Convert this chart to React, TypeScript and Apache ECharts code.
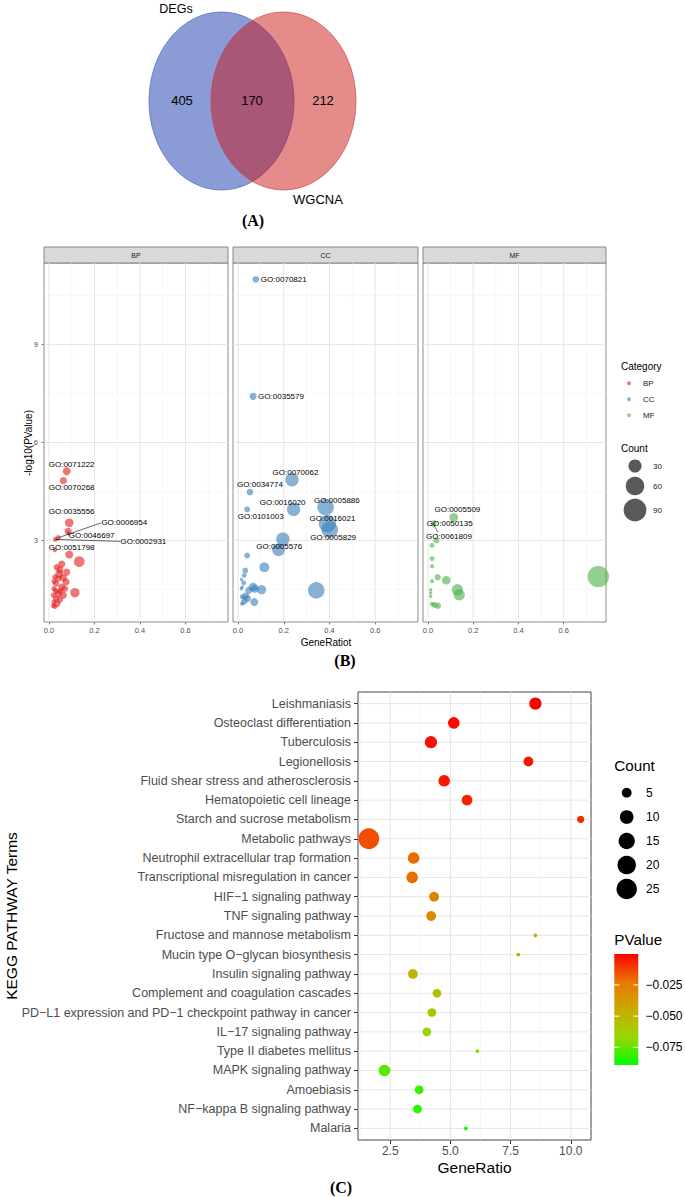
import React, { useEffect, useRef } from "react";
import * as echarts from "echarts";

// ---------------- Panel A : Venn ----------------
const vennSets = ["DEGs", "WGCNA"];
const vennCounts = [405, 170, 212]; // DEGs only, shared, WGCNA only

// ---------------- Panel B : GO bubble facets ----------------
// [GeneRatio, -log10(PValue), Count, GO id ("" = unlabeled)]
type GoPoint = [number, number, number, string];
const goCategories = ["BP", "CC", "MF"];
const bpPoints: GoPoint[] = [
  [0.078, 5.12, 11, "GO:0071222"],
  [0.063, 4.83, 9, "GO:0070268"],
  [0.089, 3.54, 13, "GO:0035556"],
  [0.084, 3.28, 9, "GO:0046697"],
  [0.04, 3.08, 5, "GO:0006954"],
  [0.028, 3.03, 4, "GO:0002931"],
  [0.026, 2.7, 3, "GO:0051798"],
  [0.089, 2.57, 11, ""],
  [0.133, 2.35, 20, ""],
  [0.114, 1.4, 15, ""],
  [0.056, 2.27, 9, ""],
  [0.034, 2.18, 7, ""],
  [0.048, 2.1, 8, ""],
  [0.078, 2.03, 9, ""],
  [0.045, 1.98, 11, ""],
  [0.026, 1.88, 5, ""],
  [0.063, 1.86, 9, ""],
  [0.041, 1.83, 7, ""],
  [0.022, 1.75, 5, ""],
  [0.075, 1.73, 9, ""],
  [0.031, 1.68, 7, ""],
  [0.056, 1.57, 9, ""],
  [0.022, 1.52, 5, ""],
  [0.07, 1.52, 7, ""],
  [0.03, 1.45, 6, ""],
  [0.05, 1.45, 6, ""],
  [0.041, 1.37, 9, ""],
  [0.019, 1.32, 5, ""],
  [0.063, 1.32, 9, ""],
  [0.031, 1.21, 7, ""],
  [0.048, 1.18, 7, ""],
  [0.022, 1.11, 5, ""],
  [0.037, 1.06, 7, ""],
  [0.019, 1.0, 4, ""],
  [0.026, 0.97, 4, ""],
];
const ccPoints: GoPoint[] = [
  [0.078, 11.0, 8, "GO:0070821"],
  [0.066, 7.41, 9, "GO:0035579"],
  [0.236, 4.86, 31, "GO:0070062"],
  [0.052, 4.48, 8, "GO:0034774"],
  [0.243, 3.95, 31, "GO:0016020"],
  [0.04, 3.95, 6, "GO:0101003"],
  [0.383, 4.02, 48, "GO:0005886"],
  [0.391, 3.51, 52, "GO:0016021"],
  [0.401, 3.33, 48, "GO:0005829"],
  [0.196, 3.04, 31, "GO:0005576"],
  [0.177, 2.71, 28, ""],
  [0.04, 2.54, 6, ""],
  [0.115, 2.18, 17, ""],
  [0.032, 2.08, 6, ""],
  [0.027, 1.93, 4, ""],
  [0.015, 1.8, 2, ""],
  [0.025, 1.7, 4, ""],
  [0.018, 1.57, 2, ""],
  [0.066, 1.57, 13, ""],
  [0.074, 1.52, 11, ""],
  [0.015, 1.52, 2, ""],
  [0.047, 1.47, 9, ""],
  [0.103, 1.49, 15, ""],
  [0.342, 1.47, 48, ""],
  [0.032, 1.29, 9, ""],
  [0.018, 1.27, 4, ""],
  [0.041, 1.22, 9, ""],
  [0.027, 1.13, 7, ""],
  [0.071, 1.11, 11, ""],
  [0.018, 1.06, 3, ""],
];
const mfPoints: GoPoint[] = [
  [0.114, 3.71, 13, "GO:0005509"],
  [0.027, 3.54, 5, "GO:0050135"],
  [0.025, 3.47, 3, "GO:0061809"],
  [0.037, 3.0, 6, ""],
  [0.018, 2.85, 4, ""],
  [0.018, 2.44, 4, ""],
  [0.018, 2.21, 3, ""],
  [0.018, 1.75, 3, ""],
  [0.043, 1.87, 7, ""],
  [0.081, 1.78, 13, ""],
  [0.753, 1.89, 80, ""],
  [0.13, 1.49, 22, ""],
  [0.138, 1.33, 22, ""],
  [0.012, 1.49, 2, ""],
  [0.012, 1.39, 2, ""],
  [0.012, 1.28, 2, ""],
  [0.018, 1.05, 4, ""],
  [0.03, 1.02, 6, ""],
  [0.044, 1.0, 7, ""],
];
const goXTicks = [0, 0.2, 0.4, 0.6];
const goXMinor = [0.1, 0.3, 0.5, 0.7];
const goYTicks = [3, 6, 9];
const goYMinor = [1.5, 4.5, 7.5, 10.5];
const goCountBreaks = [30, 60, 90];

// ---------------- Panel C : KEGG dot plot ----------------
const keggTerms = [
  "Leishmaniasis",
  "Osteoclast differentiation",
  "Tuberculosis",
  "Legionellosis",
  "Fluid shear stress and atherosclerosis",
  "Hematopoietic cell lineage",
  "Starch and sucrose metabolism",
  "Metabolic pathways",
  "Neutrophil extracellular trap formation",
  "Transcriptional misregulation in cancer",
  "HIF\u22121 signaling pathway",
  "TNF signaling pathway",
  "Fructose and mannose metabolism",
  "Mucin type O\u2212glycan biosynthesis",
  "Insulin signaling pathway",
  "Complement and coagulation cascades",
  "PD\u2212L1 expression and PD\u22121 checkpoint pathway in cancer",
  "IL\u221217 signaling pathway",
  "Type II diabetes mellitus",
  "MAPK signaling pathway",
  "Amoebiasis",
  "NF\u2212kappa B signaling pathway",
  "Malaria",
];
const keggRatio = [8.53, 5.14, 4.19, 8.24, 4.74, 5.69, 10.41, 1.61, 3.47, 3.41, 4.32, 4.2, 8.53, 7.82, 3.44, 4.44, 4.23, 4.02, 6.12, 2.26, 3.7, 3.63, 5.64];
const keggCount = [8, 7, 8, 5, 7, 6, 3, 26, 7, 7, 5, 5, 2, 2, 5, 4, 4, 4, 2, 7, 4, 4, 2];
const keggP = [-0.0002, -0.002, -0.003, -0.004, -0.005, -0.006, -0.008, -0.015, -0.0205, -0.021, -0.028, -0.031, -0.0447, -0.046, -0.05, -0.055, -0.059, -0.065, -0.071, -0.076, -0.081, -0.083, -0.0892];
const keggXTicks = [2.5, 5, 7.5, 10];
const keggXMinor = [1.25, 3.75, 6.25, 8.75];
const keggCountBreaks = [5, 10, 15, 20, 25];
const keggPBreaks = [-0.025, -0.05, -0.075];

// ---------------- styling / layout ----------------
const FONT = "'Liberation Sans', Arial, Helvetica, sans-serif";
const SERIF = "'Liberation Serif', 'Times New Roman', serif";
const AXIS_TEXT = "#4d4d4d";
const goColors = ["#E41A1C", "#377EB8", "#4DAF4A"];
const pColors = ["#00FF00", "#98D700", "#C8AB00", "#E87600", "#FF0000"]; // low -> high
const sizeB = (c: number) => 2.4 * Math.sqrt(c);
const sizeC = (c: number) => 3.8 + 17 * Math.sqrt(Math.max(0, c - 2) / 24);

const goLabelLayout: Record<string, { lx: number; ly: number; seg?: "left" | "top" }> = {
  "GO:0071222": { lx: 0.0996, ly: 5.32 },
  "GO:0070268": { lx: 0.0996, ly: 4.62 },
  "GO:0035556": { lx: 0.0996, ly: 3.88 },
  "GO:0006954": { lx: 0.331, ly: 3.54, seg: "left" },
  "GO:0046697": { lx: 0.1875, ly: 3.15, seg: "left" },
  "GO:0002931": { lx: 0.415, ly: 2.97, seg: "left" },
  "GO:0051798": { lx: 0.0996, ly: 2.78 },
  "GO:0070821": { lx: 0.2, ly: 11.0 },
  "GO:0035579": { lx: 0.188, ly: 7.41 },
  "GO:0070062": { lx: 0.251, ly: 5.08 },
  "GO:0034774": { lx: 0.096, ly: 4.7 },
  "GO:0016020": { lx: 0.195, ly: 4.17 },
  "GO:0101003": { lx: 0.099, ly: 3.73 },
  "GO:0005886": { lx: 0.432, ly: 4.22 },
  "GO:0016021": { lx: 0.413, ly: 3.67 },
  "GO:0005829": { lx: 0.416, ly: 3.08 },
  "GO:0005576": { lx: 0.18, ly: 2.82 },
  "GO:0005509": { lx: 0.13, ly: 3.94 },
  "GO:0050135": { lx: 0.096, ly: 3.51 },
  "GO:0061809": { lx: 0.093, ly: 3.12, seg: "top" },
};

function txt(text: string, x: number, y: number, size: number, o: any = {}) {
  const align = o.align || "center";
  return {
    type: "text",
    x,
    y,
    rotation: o.rot || 0,
    silent: true,
    z: 10,
    style: {
      text,
      fill: o.color || "#000",
      fontSize: size,
      fontFamily: o.family || FONT,
      fontWeight: o.weight || "normal",
      align,
      verticalAlign: "middle",
      textAlign: align,
      textVerticalAlign: "middle",
    },
  };
}

function gridRender(params: any, api: any) {
  const cs = params.coordSys;
  const dir = api.value(0);
  const v = api.value(1);
  const major = api.value(2) === 1;
  const style = { stroke: major ? "#e6e6e6" : "#f2f2f2", lineWidth: major ? 1 : 0.6 };
  if (dir === 0) {
    const x = api.coord([v, 0])[0];
    return { type: "line", shape: { x1: x, y1: cs.y, x2: x, y2: cs.y + cs.height }, style };
  }
  const y = api.coord([0, v])[1];
  return { type: "line", shape: { x1: cs.x, y1: y, x2: cs.x + cs.width, y2: y }, style };
}

function gridLineSeries(gi: number, vMaj: number[], vMin: number[], hMaj: number[], hMin: number[]) {
  return {
    type: "custom",
    xAxisIndex: gi,
    yAxisIndex: gi,
    z: 1,
    silent: true,
    data: [
      ...vMin.map((v) => [0, v, 0]),
      ...hMin.map((v) => [1, v, 0]),
      ...vMaj.map((v) => [0, v, 1]),
      ...hMaj.map((v) => [1, v, 1]),
    ],
    renderItem: gridRender,
  };
}

function labelSeries(gi: number, pts: GoPoint[]) {
  const items = pts
    .filter((p) => p[3] && goLabelLayout[p[3]])
    .map((p) => ({ x: p[0], y: p[1], name: p[3], ...goLabelLayout[p[3]] }));
  return {
    type: "custom",
    xAxisIndex: gi,
    yAxisIndex: gi,
    z: 6,
    silent: true,
    data: items.map((it) => [it.x, it.y]),
    renderItem: (params: any, api: any) => {
      const it = items[params.dataIndex];
      const p = api.coord([it.x, it.y]);
      const l = api.coord([it.lx, it.ly]);
      const children: any[] = [];
      if (it.seg === "left") {
        children.push({ type: "line", shape: { x1: l[0] - 23, y1: l[1], x2: p[0], y2: p[1] }, style: { stroke: "#000", lineWidth: 0.6 } });
      } else if (it.seg === "top") {
        children.push({ type: "line", shape: { x1: l[0] - 11, y1: l[1] - 4.5, x2: p[0], y2: p[1] }, style: { stroke: "#000", lineWidth: 0.6 } });
      }
      children.push({
        type: "text",
        x: l[0],
        y: l[1],
        style: { text: it.name, fill: "#000", fontSize: 8, fontFamily: FONT, align: "center", verticalAlign: "middle" },
      });
      return { type: "group", children };
    },
  };
}

export default function App() {
  const ref = useRef<HTMLDivElement>(null);

  useEffect(() => {
    if (!ref.current) return;
    const chart = echarts.init(ref.current, null, { renderer: "svg" });

    const goGrids = [
      { left: 44, width: 184 },
      { left: 233, width: 185 },
      { left: 423, width: 183 },
    ];
    const GO_TOP = 263;
    const GO_H = 359;
    const allGo = [bpPoints, ccPoints, mfPoints];

    const grids: any[] = goGrids.map((g) => ({
      left: g.left,
      top: GO_TOP,
      width: g.width,
      height: GO_H,
      show: true,
      borderColor: "#6e6e6e",
      borderWidth: 0.8,
      backgroundColor: "transparent",
      outerBoundsMode: "none",
    }));
    grids.push({ left: 358, top: 692, width: 233, height: 448, show: true, borderColor: "#444", borderWidth: 1, backgroundColor: "transparent", outerBoundsMode: "none" });

    const noLine = { show: false, onZero: false, lineStyle: { color: AXIS_TEXT } };

    const xAxes: any[] = goGrids.map((_, i) => ({
      type: "value",
      gridIndex: i,
      min: -0.022,
      max: 0.787,
      axisLine: noLine,
      splitLine: { show: false },
      axisTick: { show: true, length: 2.5, lineStyle: { color: "#333", width: 0.6 }, customValues: goXTicks },
      axisLabel: { show: true, customValues: goXTicks, formatter: (v: number) => v.toFixed(1), fontSize: 7.5, color: AXIS_TEXT, margin: 4, fontFamily: FONT },
    }));
    xAxes.push({
      type: "value",
      gridIndex: 3,
      min: 1.16,
      max: 10.84,
      axisLine: noLine,
      splitLine: { show: false },
      axisTick: { show: true, length: 4, lineStyle: { color: "#333", width: 1 }, customValues: keggXTicks },
      axisLabel: { show: true, customValues: keggXTicks, formatter: (v: number) => v.toFixed(1), fontSize: 12, color: AXIS_TEXT, margin: 5, fontFamily: FONT },
    });

    const yAxes: any[] = goGrids.map((_, i) => ({
      type: "value",
      gridIndex: i,
      min: 0.5,
      max: 11.5,
      axisLine: noLine,
      splitLine: { show: false },
      axisTick: { show: i === 0, length: 2.5, lineStyle: { color: "#333", width: 0.6 }, customValues: goYTicks },
      axisLabel: {
        show: i === 0,
        customValues: goYTicks,
        formatter: (v: number) => String(v),
        fontSize: 7.5,
        color: AXIS_TEXT,
        fontWeight: "normal",
        margin: 6,
        fontFamily: FONT,
      },
    }));
    const keggIdx = keggTerms.map((_, i) => i);
    yAxes.push({
      type: "value",
      gridIndex: 3,
      min: -0.6,
      max: 22.6,
      inverse: true,
      axisLine: noLine,
      splitLine: { show: false },
      axisTick: { show: true, length: 4, lineStyle: { color: "#333", width: 1 }, customValues: keggIdx },
      axisLabel: {
        show: true,
        customValues: keggIdx,
        formatter: (v: number) => keggTerms[Math.round(v)] ?? "",
        fontSize: 12.5,
        color: AXIS_TEXT,
        margin: 7,
        fontFamily: FONT,
      },
    });

    const series: any[] = [];
    for (let i = 0; i < 3; i++) series.push(gridLineSeries(i, goXTicks, goXMinor, goYTicks, goYMinor));
    series.push(gridLineSeries(3, keggXTicks, keggXMinor, keggIdx, []));
    allGo.forEach((pts, i) => {
      series.push({
        type: "scatter",
        name: goCategories[i],
        xAxisIndex: i,
        yAxisIndex: i,
        z: 3,
        silent: true,
        data: pts.map((p) => [p[0], p[1], p[2]]),
        symbolSize: (val: number[]) => sizeB(val[2]),
        itemStyle: { color: goColors[i], opacity: 0.6 },
        emphasis: { disabled: true },
      });
    });
    allGo.forEach((pts, i) => series.push(labelSeries(i, pts)));
    const keggSeriesIndex = series.length;
    series.push({
      type: "scatter",
      name: "KEGG",
      xAxisIndex: 3,
      yAxisIndex: 3,
      z: 3,
      silent: true,
      data: keggTerms.map((_, i) => [keggRatio[i], i, keggCount[i], keggP[i]]),
      symbolSize: (val: number[]) => sizeC(val[2]),
      itemStyle: { opacity: 1 },
      emphasis: { disabled: true },
    });

    const pMin = Math.min(...keggP);
    const pMax = Math.max(...keggP);

    // ---------- graphics ----------
    const g: any[] = [];
    // Venn
    g.push({ type: "ellipse", silent: true, z: 1, shape: { cx: 221.5, cy: 101, rx: 72.5, ry: 89 }, style: { fill: "#8a9bd6", stroke: "#5d72c4", lineWidth: 0.8 } });
    g.push({ type: "ellipse", silent: true, z: 2, shape: { cx: 283.5, cy: 101, rx: 72.5, ry: 89 }, style: { fill: "rgba(201,14,12,0.48)", stroke: "rgba(205,60,60,0.8)", lineWidth: 0.8 } });
    g.push(txt(vennSets[0], 176, 9, 12.5));
    g.push(txt(vennSets[1], 318, 199, 13));
    g.push(txt(String(vennCounts[0]), 182, 100, 13));
    g.push(txt(String(vennCounts[1]), 252, 100, 13));
    g.push(txt(String(vennCounts[2]), 323, 100, 13));
    g.push(txt("(A)", 253, 220, 16, { family: SERIF, weight: "bold" }));

    // facet strips
    goGrids.forEach((gr, i) => {
      g.push({ type: "rect", silent: true, z: 1, shape: { x: gr.left, y: 247, width: gr.width, height: 16 }, style: { fill: "#d9d9d9", stroke: "#6e6e6e", lineWidth: 0.8 } });
      g.push(txt(goCategories[i], gr.left + gr.width / 2, 255.5, 7, { color: "#1a1a1a" }));
    });
    g.push(txt("-log10(PValue)", 28.5, 443, 10, { rot: Math.PI / 2 }));
    g.push(txt("GeneRatiot", 326, 642, 10));
    g.push(txt("(B)", 345, 660, 16, { family: SERIF, weight: "bold" }));

    // legend B: Category
    g.push(txt("Category", 621, 366, 10, { align: "left" }));
    goCategories.forEach((c, i) => {
      const y = 383.3 + i * 16;
      g.push({ type: "circle", silent: true, shape: { cx: 629, cy: y, r: 2 }, style: { fill: goColors[i], opacity: 0.6 } });
      g.push(txt(c, 643, y, 8, { align: "left", color: "#1a1a1a" }));
    });
    // legend B: Count
    g.push(txt("Count", 621, 448, 10, { align: "left" }));
    const goCountY = [466, 486, 510];
    goCountBreaks.forEach((c, i) => {
      g.push({ type: "circle", silent: true, shape: { cx: 635, cy: goCountY[i], r: sizeB(c) / 2 }, style: { fill: "rgba(0,0,0,0.65)" } });
      g.push(txt(String(c), 653, goCountY[i], 8, { align: "left", color: "#1a1a1a" }));
    });

    // panel C texts
    g.push(txt("KEGG PATHWAY Terms", 11, 916, 15.5, { rot: Math.PI / 2 }));
    g.push(txt("GeneRatio", 474.5, 1167, 15.5));
    g.push(txt("(C)", 341, 1187, 16, { family: SERIF, weight: "bold" }));

    // legend C: Count
    const LX = 614.3;
    g.push(txt("Count", LX, 765.5, 15.2, { align: "left" }));
    const kCountY = [792.7, 817, 841, 865, 889];
    keggCountBreaks.forEach((c, i) => {
      g.push({ type: "circle", silent: true, shape: { cx: 626.7, cy: kCountY[i], r: sizeC(c) / 2 }, style: { fill: "#000" } });
      g.push(txt(String(c), 646, kCountY[i], 12, { align: "left" }));
    });
    // legend C: PValue colorbar
    g.push(txt("PValue", LX, 939.5, 15.2, { align: "left" }));
    const cbX = LX, cbY = 954, cbW = 24, cbH = 111;
    const stops = pColors
      .slice()
      .reverse()
      .map((c, i, arr) => ({ offset: i / (arr.length - 1), color: c }));
    g.push({
      type: "rect",
      silent: true,
      shape: { x: cbX, y: cbY, width: cbW, height: cbH },
      style: { fill: new echarts.graphic.LinearGradient(0, 0, 0, 1, stops) },
    });
    keggPBreaks.forEach((b) => {
      const y = cbY + ((pMax - b) / (pMax - pMin)) * cbH;
      g.push({ type: "line", silent: true, z: 11, shape: { x1: cbX, y1: y, x2: cbX + 5, y2: y }, style: { stroke: "#fff", lineWidth: 1 } });
      g.push({ type: "line", silent: true, z: 11, shape: { x1: cbX + cbW - 5, y1: y, x2: cbX + cbW, y2: y }, style: { stroke: "#fff", lineWidth: 1 } });
      g.push(txt(b.toFixed(3).replace("-", "\u2212"), 645.5, y, 12, { align: "left" }));
    });

    chart.setOption({
      animation: false,
      backgroundColor: "#ffffff",
      textStyle: { fontFamily: FONT },
      grid: grids,
      xAxis: xAxes,
      yAxis: yAxes,
      visualMap: [
        {
          type: "continuous",
          show: false,
          seriesIndex: keggSeriesIndex,
          dimension: 3,
          min: pMin,
          max: pMax,
          inRange: { color: pColors },
        },
      ],
      series,
      graphic: { elements: g },
    });

    return () => chart.dispose();
  }, []);

  return (
    <div
      ref={ref}
      style={{ position: "absolute", left: 0, top: 0, width: 685, height: 1197, background: "#fff" }}
    />
  );
}
